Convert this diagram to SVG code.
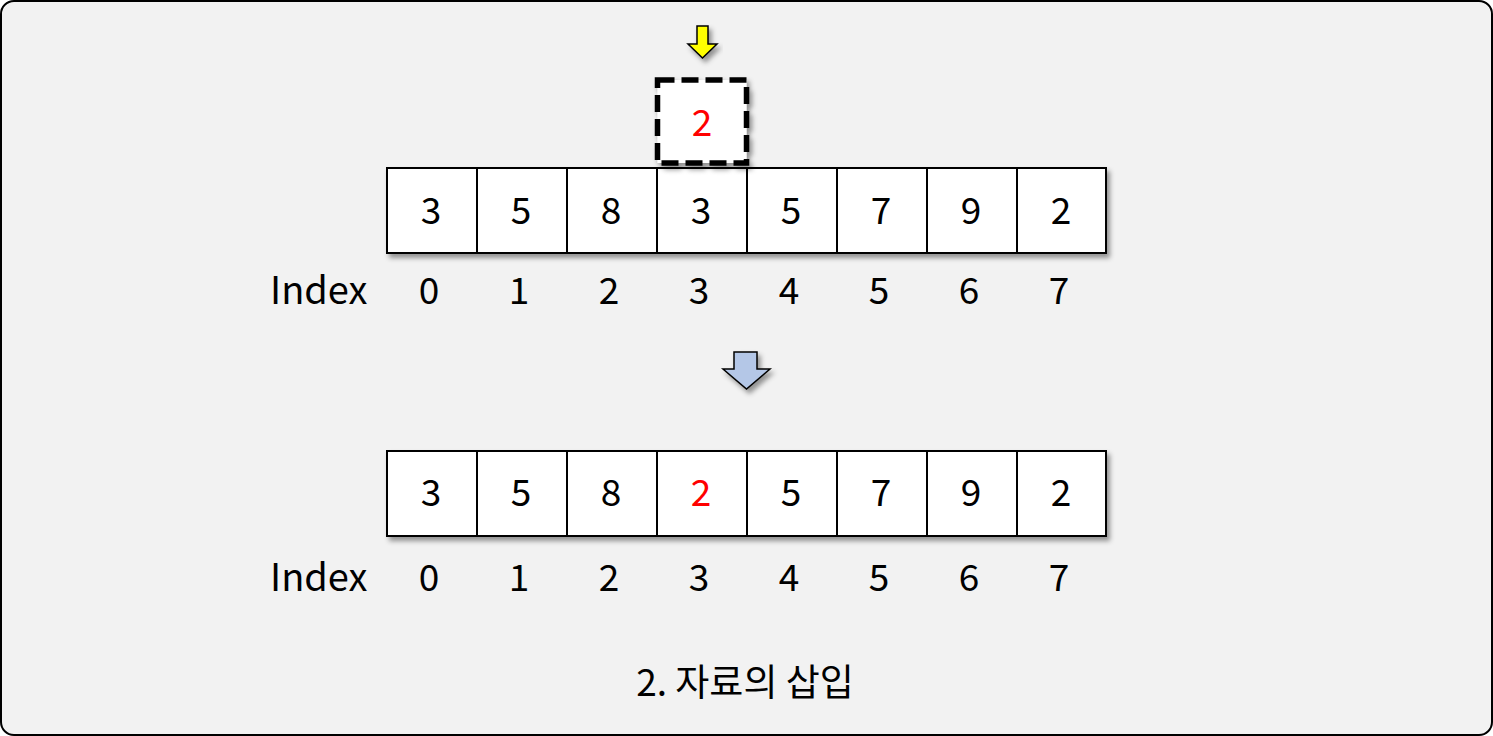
<svg xmlns="http://www.w3.org/2000/svg" width="1493" height="736" viewBox="0 0 1493 736">
<defs>
<filter id="sh" x="-10%" y="-10%" width="130%" height="140%">
<feDropShadow dx="3" dy="4" stdDeviation="2.5" flood-color="#000" flood-opacity="0.4"/>
</filter>
</defs>
<style>
.cell{fill:#fff;stroke:#000;stroke-width:2}
.t{font-family:"Noto Sans CJK KR","Noto Sans",sans-serif;font-size:37px;fill:#000;text-anchor:middle}
.r{fill:#ff0000}
.idx{font-family:"Noto Sans CJK KR","Noto Sans",sans-serif;font-size:38px;fill:#000}
</style>
<rect x="1" y="1" width="1491" height="734" rx="13" fill="#f2f2f2" stroke="#000" stroke-width="2"/>
<g id="connectors">
<path d="M697 26 H708 V44 H717 L702.5 58 L688 44 H697 Z" fill="#ffff00" stroke="#000" stroke-width="1.5" filter="url(#sh)"/>
<path d="M734 352 H757 V369 H770 L746.5 389 L723 369 H734 Z" fill="#b4c7e7" stroke="#000" stroke-width="1.5" filter="url(#sh)"/>
</g>
<g id="top-row" filter="url(#sh)">
<rect class="cell" x="387" y="168" width="719" height="85"/>
</g>
<g id="top-cells">
<rect class="cell" x="387" y="168" width="90" height="85"/>
<rect class="cell" x="477" y="168" width="90" height="85"/>
<rect class="cell" x="567" y="168" width="90" height="85"/>
<rect class="cell" x="657" y="168" width="90" height="85"/>
<rect class="cell" x="747" y="168" width="90" height="85"/>
<rect class="cell" x="837" y="168" width="90" height="85"/>
<rect class="cell" x="927" y="168" width="90" height="85"/>
<rect class="cell" x="1017" y="168" width="89" height="85"/>
<text class="t" x="431" y="224">3</text>
<text class="t" x="521" y="224">5</text>
<text class="t" x="611" y="224">8</text>
<text class="t" x="701" y="224">3</text>
<text class="t" x="791" y="224">5</text>
<text class="t" x="881" y="224">7</text>
<text class="t" x="971" y="224">9</text>
<text class="t" x="1061" y="224">2</text>
</g>
<g id="new-item">
<rect x="657.5" y="80" width="89" height="83" fill="#fff" stroke="#000" stroke-width="5.5" stroke-dasharray="17,7" filter="url(#sh)"/>
<text class="t r" x="702" y="136">2</text>
</g>
<g id="top-index">
<text class="idx" x="270" y="304">Index</text>
<text class="t" x="429" y="304">0</text>
<text class="t" x="519" y="304">1</text>
<text class="t" x="609" y="304">2</text>
<text class="t" x="699" y="304">3</text>
<text class="t" x="789" y="304">4</text>
<text class="t" x="879" y="304">5</text>
<text class="t" x="969" y="304">6</text>
<text class="t" x="1059" y="304">7</text>
</g>
<g id="bottom-row" filter="url(#sh)">
<rect class="cell" x="387" y="451" width="719" height="85"/>
</g>
<g id="bottom-cells">
<rect class="cell" x="387" y="451" width="90" height="85"/>
<rect class="cell" x="477" y="451" width="90" height="85"/>
<rect class="cell" x="567" y="451" width="90" height="85"/>
<rect class="cell" x="657" y="451" width="90" height="85"/>
<rect class="cell" x="747" y="451" width="90" height="85"/>
<rect class="cell" x="837" y="451" width="90" height="85"/>
<rect class="cell" x="927" y="451" width="90" height="85"/>
<rect class="cell" x="1017" y="451" width="89" height="85"/>
<text class="t" x="431" y="506">3</text>
<text class="t" x="521" y="506">5</text>
<text class="t" x="611" y="506">8</text>
<text class="t r" x="701" y="506">2</text>
<text class="t" x="791" y="506">5</text>
<text class="t" x="881" y="506">7</text>
<text class="t" x="971" y="506">9</text>
<text class="t" x="1061" y="506">2</text>
</g>
<g id="bottom-index">
<text class="idx" x="270" y="591">Index</text>
<text class="t" x="429" y="591">0</text>
<text class="t" x="519" y="591">1</text>
<text class="t" x="609" y="591">2</text>
<text class="t" x="699" y="591">3</text>
<text class="t" x="789" y="591">4</text>
<text class="t" x="879" y="591">5</text>
<text class="t" x="969" y="591">6</text>
<text class="t" x="1059" y="591">7</text>
</g>
<g id="caption">
<text class="t" x="745" y="696">2. 자료의 삽입</text>
</g>
</svg>
